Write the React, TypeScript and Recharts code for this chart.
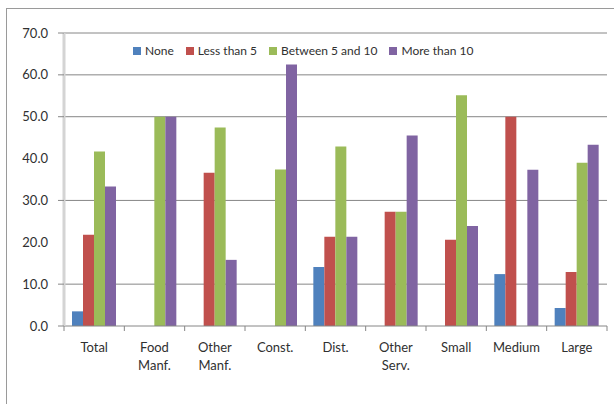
import React from "react";
import { BarChart, Bar, XAxis, YAxis, CartesianGrid } from "recharts";

// Share of firms by size band, per sector / firm size
const categories = ["Total", "Food Manf.", "Other Manf.", "Const.", "Dist.", "Other Serv.", "Small", "Medium", "Large"];
const none = [3.5, null, null, null, 14.1, null, null, 12.4, 4.3];
const lessThan5 = [21.8, null, 36.6, null, 21.3, 27.3, 20.6, 50.0, 12.9];
const between5And10 = [41.7, 50.0, 47.4, 37.4, 42.9, 27.3, 55.1, null, 39.0];
const moreThan10 = [33.3, 50.0, 15.8, 62.5, 21.3, 45.5, 23.9, 37.3, 43.3];

const yTicks = [0, 10, 20, 30, 40, 50, 60, 70];
const gridValues = [10, 30, 50, 60, 70];
const tickMarkValues = [0, 10, 30, 50, 60, 70];

const series = [
  { key: "none", name: "None", color: "#4F81BD", values: none },
  { key: "lt5", name: "Less than 5", color: "#C0504D", values: lessThan5 },
  { key: "b510", name: "Between 5 and 10", color: "#9BBB59", values: between5And10 },
  { key: "gt10", name: "More than 10", color: "#8064A2", values: moreThan10 },
];

const data = categories.map((c, i) => {
  const row: Record<string, any> = { category: c };
  series.forEach((s) => {
    row[s.key] = s.values[i];
  });
  return row;
});

const FONT = "Lato, 'Open Sans', sans-serif";
const TEXT = "#303030";
const AXIS = "#868686";

const YTick = (props: any) => {
  const { x, y, payload } = props;
  return (
    <g>
      {tickMarkValues.includes(payload.value) && (
        <line x1={x + 10} x2={x + 16} y1={y} y2={y} stroke={AXIS} strokeWidth={1} />
      )}
      <text x={x} y={y + 4.5} textAnchor="end" fontFamily={FONT} fontSize={13} fill={TEXT}>
        {payload.value.toFixed(1)}
      </text>
    </g>
  );
};

const XTick = (props: any) => {
  const { x, y, payload, index, visibleTicksCount } = props;
  const half = payload.offset ?? 0;
  const axisY = y - 8;
  const lines = String(payload.value).split(" ");
  return (
    <g>
      <line x1={x - half} x2={x - half} y1={axisY} y2={axisY + 5} stroke={AXIS} strokeWidth={1} />
      {index === visibleTicksCount - 1 && (
        <line x1={x + half} x2={x + half} y1={axisY} y2={axisY + 5} stroke={AXIS} strokeWidth={1} />
      )}
      {lines.map((l, i) => (
        <text
          key={i}
          x={x}
          y={axisY + 26 + i * 18}
          textAnchor="middle"
          fontFamily={FONT}
          fontSize={13}
          fill={TEXT}
        >
          {l}
        </text>
      ))}
    </g>
  );
};

const LegendBox = () => (
  <div
    style={{
      position: "absolute",
      left: 133,
      top: 43,
      display: "flex",
      alignItems: "center",
      fontFamily: FONT,
      fontSize: 12,
      color: TEXT,
      whiteSpace: "nowrap",
    }}
  >
    {series.map((s) => (
      <div key={s.key} style={{ display: "flex", alignItems: "center", marginRight: 12 }}>
        <span style={{ width: 8, height: 8, background: s.color, display: "inline-block", marginRight: 4 }} />
        <span>{s.name}</span>
      </div>
    ))}
  </div>
);

export default function App() {
  return (
    <div
      style={{
        position: "absolute",
        left: 0,
        top: 0,
        width: 614,
        height: 404,
        overflow: "hidden",
        background: "#fff",
      }}
    >
      <div
        style={{
          position: "absolute",
          left: 6,
          top: 8,
          width: 700,
          height: 500,
          borderLeft: "1px solid #9a9a9a",
          borderTop: "1px solid #9a9a9a",
        }}
      />
      <BarChart
        width={614}
        height={404}
        data={data}
        margin={{ top: 33, right: 7, bottom: 0, left: 0 }}
        barSize={11}
        barGap={0}
      >
        <CartesianGrid
          vertical={false}
          horizontalValues={gridValues}
          stroke={AXIS}
          strokeWidth={1}
        />
        <XAxis
          dataKey="category"
          height={78}
          interval={0}
          axisLine={{ stroke: AXIS, strokeWidth: 1 }}
          tickLine={false}
          tickSize={6}
          tickMargin={2}
          tick={<XTick />}
        />
        <YAxis
          width={64}
          domain={[0, 70]}
          ticks={yTicks}
          interval={0}
          axisLine={{ stroke: "#d4d4d4", strokeWidth: 3 }}
          tickLine={false}
          tickSize={6}
          tickMargin={10}
          tick={<YTick />}
        />
        {series.map((s) => (
          <Bar key={s.key} dataKey={s.key} name={s.name} fill={s.color} isAnimationActive={false} />
        ))}
      </BarChart>
      <LegendBox />
    </div>
  );
}
